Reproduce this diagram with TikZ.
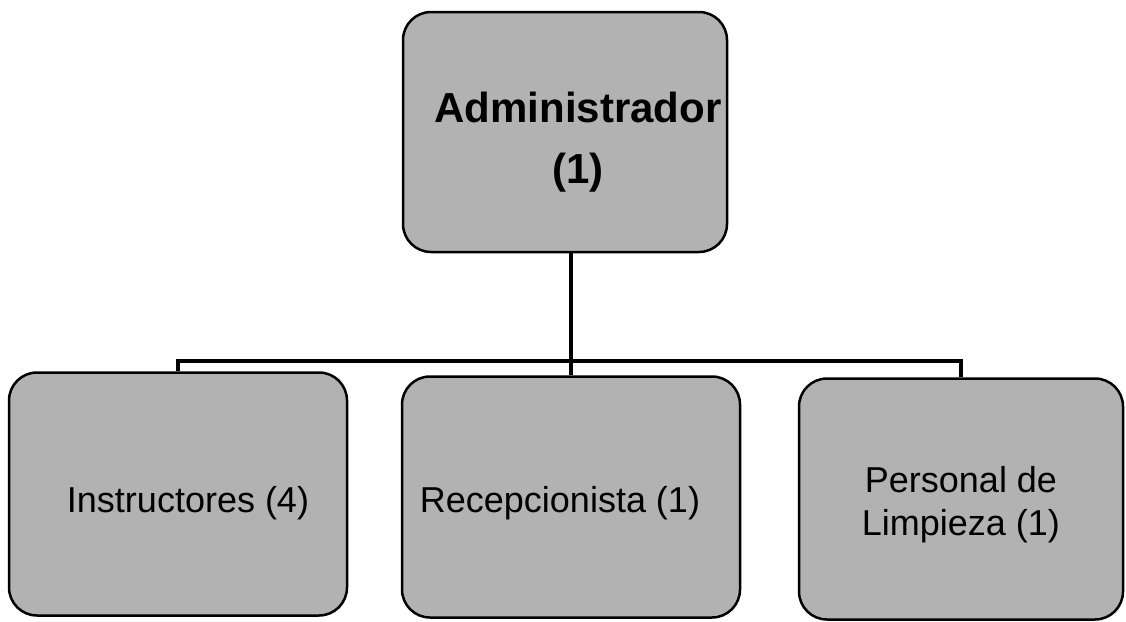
\documentclass[tikz,border=0pt]{standalone}
\usepackage{fontspec}
\setmainfont{Liberation Sans}
\begin{document}
\begin{tikzpicture}[x=1pt,y=-1pt,
  orgbox/.style={draw=black, line width=2.5pt, fill=black!30, rounded corners=28pt, inner sep=0pt},
  boxtext/.style={align=center, inner sep=0pt, font=\fontsize{36}{43}\selectfont},
  titletext/.style={align=center, inner sep=0pt, font=\fontsize{42}{61}\selectfont\bfseries},
  link/.style={draw=black, line width=4pt}]
\useasboundingbox (0,0) rectangle (1126,621);
\node[orgbox, minimum width=324pt, minimum height=240pt] (admin) at (565,132) {};
\node[orgbox, minimum width=338pt, minimum height=243pt] (inst) at (178,494) {};
\node[orgbox, minimum width=338pt, minimum height=241pt] (recep) at (571,497) {};
\node[orgbox, minimum width=324pt, minimum height=241pt] (limp) at (961,499) {};
\node[titletext] (adminT) at (578,142) {Administrador\\(1)};
\node[boxtext] (instT) at (188,503) {Instructores (4)};
\node[boxtext] (recepT) at (560,503) {Recepcionista (1)};
\node[boxtext] (limpT) at (961,505) {Personal de\\Limpieza (1)};
\coordinate (bar) at (571,361);
\draw[link] (admin.south -| recep.north) -- (recep.north);
\draw[link] (inst.north) |- (bar) -| (limp.north);
\end{tikzpicture}
\end{document}
